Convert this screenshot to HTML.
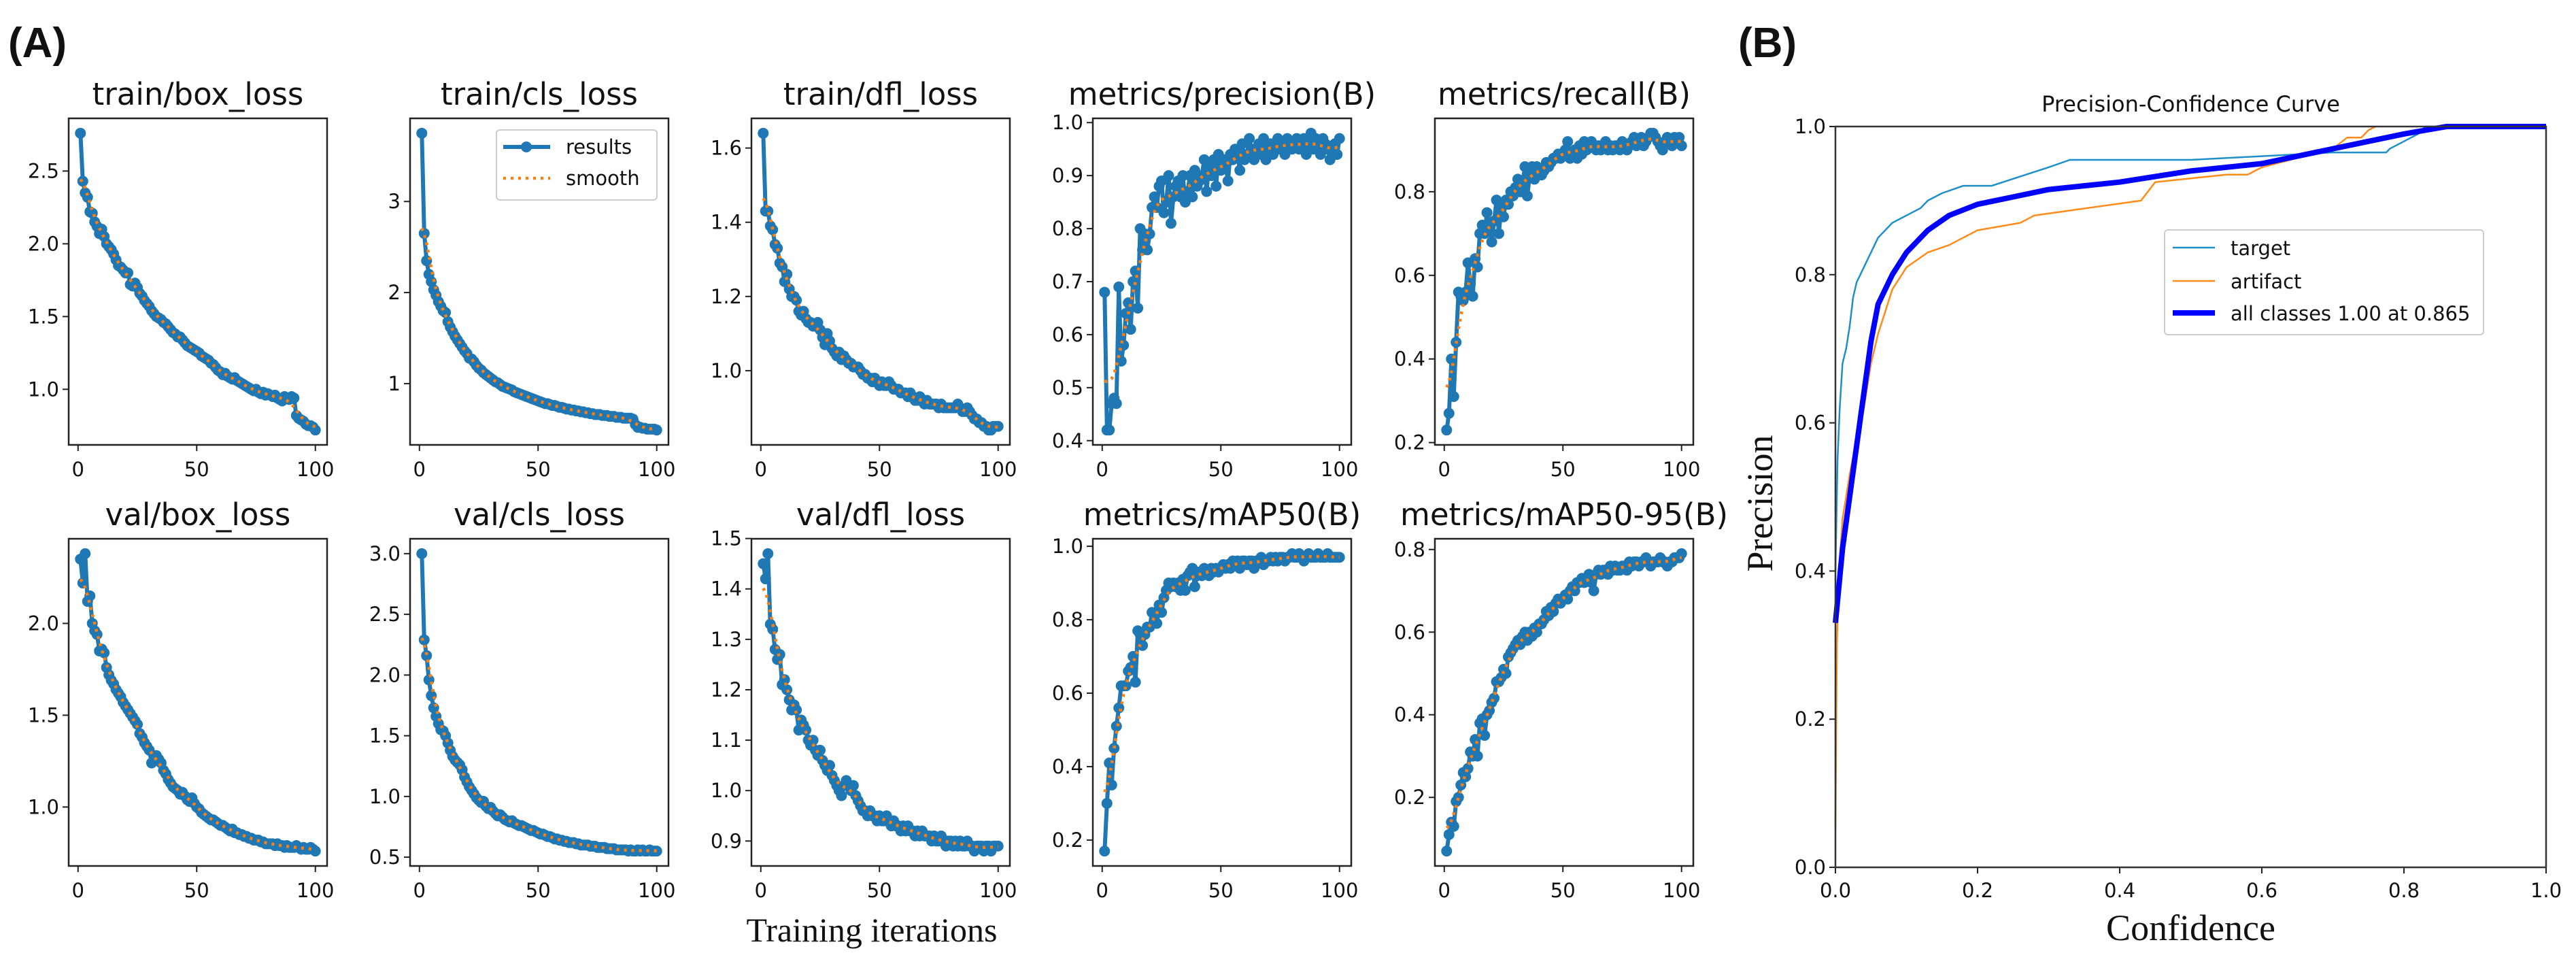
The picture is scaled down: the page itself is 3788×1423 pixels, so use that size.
<!DOCTYPE html>
<html><head><meta charset="utf-8"><style>
html,body{margin:0;padding:0;background:#fff}
svg{display:block}
text{font-family:"DejaVu Sans","Liberation Sans",sans-serif;fill:#111}
</style></head><body>
<svg id="fig" width="3788" height="1423" viewBox="0 0 3788 1423" xmlns="http://www.w3.org/2000/svg">
<text x="12" y="84" style="font-family:'Liberation Sans',sans-serif;font-weight:bold;font-size:62px">(A)</text>
<text x="2556" y="84" style="font-family:'Liberation Sans',sans-serif;font-weight:bold;font-size:62px">(B)</text>
<text x="1282" y="1384" text-anchor="middle" style="font-family:'Liberation Serif',serif;font-size:50px">Training iterations</text>
</svg>
<script>
const trainBox=[2.76,2.43,2.35,2.32,2.22,2.21,2.15,2.12,2.07,2.10,2.05,2.00,1.98,1.96,1.93,1.89,1.85,1.84,1.82,1.80,1.80,1.72,1.71,1.73,1.70,1.66,1.64,1.61,1.59,1.57,1.54,1.52,1.50,1.49,1.48,1.46,1.45,1.43,1.41,1.39,1.38,1.36,1.36,1.34,1.32,1.30,1.29,1.28,1.27,1.26,1.25,1.23,1.22,1.21,1.20,1.18,1.17,1.15,1.13,1.12,1.10,1.11,1.09,1.08,1.07,1.08,1.06,1.05,1.04,1.03,1.02,1.01,1.00,0.99,1.00,0.98,0.97,0.98,0.96,0.97,0.96,0.95,0.96,0.94,0.93,0.92,0.95,0.94,0.93,0.95,0.94,0.82,0.80,0.79,0.78,0.76,0.75,0.75,0.74,0.72];
const trainCls=[3.75,2.65,2.35,2.20,2.12,2.03,1.97,1.90,1.85,1.80,1.78,1.68,1.62,1.57,1.52,1.48,1.44,1.40,1.36,1.33,1.28,1.27,1.24,1.20,1.17,1.15,1.12,1.10,1.08,1.06,1.04,1.02,1.01,0.99,0.97,0.96,0.95,0.94,0.93,0.91,0.90,0.89,0.88,0.87,0.86,0.85,0.84,0.83,0.82,0.81,0.80,0.79,0.78,0.78,0.77,0.76,0.76,0.75,0.74,0.74,0.73,0.72,0.72,0.71,0.71,0.70,0.70,0.69,0.69,0.68,0.68,0.67,0.67,0.66,0.66,0.66,0.65,0.65,0.65,0.64,0.64,0.64,0.63,0.63,0.63,0.62,0.62,0.62,0.62,0.61,0.55,0.52,0.52,0.51,0.51,0.50,0.50,0.50,0.50,0.49];
const trainDfl=[1.64,1.43,1.43,1.39,1.38,1.34,1.33,1.29,1.28,1.24,1.26,1.22,1.20,1.20,1.19,1.16,1.15,1.16,1.14,1.13,1.13,1.12,1.12,1.13,1.11,1.09,1.07,1.10,1.08,1.06,1.05,1.04,1.05,1.03,1.04,1.03,1.02,1.02,1.01,1.01,1.01,1.00,0.99,0.99,0.98,0.98,0.97,0.98,0.97,0.96,0.97,0.96,0.96,0.97,0.96,0.95,0.95,0.95,0.94,0.94,0.94,0.93,0.94,0.93,0.92,0.92,0.93,0.92,0.91,0.92,0.91,0.91,0.91,0.91,0.90,0.91,0.90,0.90,0.90,0.90,0.90,0.90,0.91,0.90,0.89,0.89,0.90,0.89,0.88,0.87,0.87,0.86,0.86,0.85,0.85,0.84,0.84,0.85,0.85,0.85];
const precision=[0.68,0.42,0.42,0.47,0.48,0.47,0.69,0.55,0.58,0.64,0.66,0.61,0.70,0.72,0.65,0.80,0.76,0.79,0.76,0.79,0.84,0.86,0.84,0.88,0.89,0.83,0.85,0.90,0.81,0.86,0.88,0.89,0.86,0.90,0.85,0.87,0.90,0.86,0.91,0.88,0.89,0.90,0.93,0.87,0.92,0.90,0.93,0.88,0.94,0.91,0.93,0.92,0.89,0.94,0.93,0.95,0.94,0.91,0.96,0.93,0.94,0.97,0.95,0.93,0.95,0.96,0.94,0.97,0.93,0.95,0.96,0.94,0.96,0.97,0.95,0.96,0.94,0.97,0.96,0.95,0.96,0.97,0.95,0.96,0.97,0.94,0.96,0.98,0.95,0.97,0.96,0.94,0.97,0.96,0.95,0.93,0.95,0.96,0.94,0.97];
const recall=[0.23,0.27,0.40,0.31,0.44,0.56,0.55,0.54,0.56,0.63,0.58,0.55,0.64,0.62,0.70,0.72,0.70,0.75,0.72,0.68,0.73,0.78,0.70,0.76,0.74,0.78,0.77,0.80,0.79,0.81,0.83,0.80,0.82,0.86,0.79,0.84,0.86,0.83,0.86,0.85,0.84,0.85,0.87,0.86,0.87,0.88,0.88,0.89,0.88,0.89,0.90,0.92,0.88,0.89,0.90,0.88,0.91,0.89,0.92,0.90,0.91,0.92,0.91,0.90,0.91,0.90,0.91,0.92,0.90,0.91,0.90,0.91,0.91,0.90,0.92,0.91,0.90,0.91,0.92,0.93,0.91,0.92,0.93,0.91,0.92,0.93,0.94,0.94,0.93,0.92,0.91,0.90,0.92,0.93,0.92,0.91,0.93,0.92,0.93,0.91];
const valBox=[2.35,2.22,2.38,2.12,2.15,2.00,1.96,1.94,1.85,1.86,1.84,1.76,1.72,1.69,1.67,1.64,1.62,1.60,1.57,1.55,1.53,1.51,1.49,1.47,1.45,1.40,1.38,1.35,1.33,1.31,1.24,1.27,1.28,1.26,1.24,1.20,1.18,1.15,1.13,1.11,1.10,1.09,1.07,1.08,1.06,1.04,1.03,1.05,1.02,1.00,0.99,0.97,0.96,0.95,0.94,0.93,0.93,0.92,0.91,0.90,0.90,0.89,0.88,0.87,0.88,0.86,0.86,0.85,0.85,0.84,0.84,0.83,0.83,0.82,0.82,0.82,0.81,0.81,0.80,0.80,0.80,0.80,0.79,0.80,0.79,0.79,0.78,0.79,0.78,0.78,0.78,0.79,0.78,0.77,0.78,0.77,0.77,0.78,0.77,0.76];
const valCls=[3.00,2.29,2.16,1.96,1.83,1.73,1.66,1.60,1.55,1.54,1.50,1.44,1.38,1.33,1.30,1.28,1.26,1.22,1.16,1.12,1.08,1.05,1.02,0.99,0.97,0.95,0.96,0.92,0.90,0.91,0.88,0.86,0.84,0.85,0.83,0.81,0.80,0.79,0.80,0.78,0.77,0.76,0.76,0.75,0.74,0.73,0.72,0.72,0.71,0.70,0.69,0.69,0.68,0.67,0.67,0.66,0.65,0.65,0.64,0.64,0.63,0.63,0.62,0.62,0.62,0.61,0.61,0.60,0.60,0.60,0.60,0.59,0.59,0.59,0.58,0.58,0.58,0.58,0.57,0.57,0.57,0.57,0.56,0.56,0.56,0.56,0.56,0.55,0.56,0.55,0.55,0.56,0.55,0.56,0.55,0.55,0.56,0.55,0.55,0.55];
const valDfl=[1.45,1.42,1.47,1.33,1.32,1.28,1.26,1.27,1.21,1.22,1.20,1.18,1.16,1.17,1.16,1.12,1.14,1.13,1.12,1.10,1.09,1.10,1.08,1.07,1.08,1.06,1.05,1.04,1.05,1.03,1.02,1.01,1.00,0.99,1.01,1.02,1.01,1.00,1.01,0.99,0.98,0.97,0.96,0.96,0.95,0.96,0.95,0.95,0.94,0.95,0.94,0.94,0.95,0.94,0.93,0.94,0.93,0.93,0.92,0.93,0.92,0.93,0.92,0.92,0.91,0.92,0.91,0.92,0.91,0.91,0.91,0.90,0.91,0.90,0.90,0.91,0.90,0.89,0.90,0.90,0.89,0.90,0.89,0.90,0.89,0.89,0.90,0.89,0.89,0.88,0.89,0.89,0.89,0.88,0.89,0.89,0.88,0.89,0.89,0.89];
const map50=[0.17,0.30,0.41,0.35,0.45,0.51,0.56,0.62,0.62,0.62,0.66,0.67,0.70,0.63,0.77,0.76,0.73,0.76,0.78,0.78,0.82,0.80,0.79,0.84,0.82,0.86,0.88,0.90,0.89,0.90,0.89,0.90,0.88,0.91,0.88,0.92,0.93,0.94,0.89,0.92,0.93,0.92,0.94,0.93,0.92,0.94,0.93,0.94,0.93,0.94,0.95,0.94,0.95,0.94,0.96,0.95,0.96,0.94,0.96,0.96,0.95,0.96,0.96,0.94,0.96,0.96,0.97,0.95,0.96,0.96,0.97,0.96,0.97,0.96,0.97,0.97,0.96,0.97,0.97,0.98,0.97,0.97,0.98,0.97,0.96,0.97,0.98,0.97,0.97,0.97,0.98,0.97,0.97,0.97,0.98,0.97,0.97,0.97,0.97,0.97];
const map5095=[0.07,0.11,0.14,0.13,0.19,0.20,0.23,0.26,0.25,0.27,0.31,0.30,0.34,0.30,0.38,0.39,0.35,0.40,0.41,0.43,0.44,0.48,0.48,0.49,0.51,0.50,0.54,0.55,0.56,0.57,0.58,0.57,0.59,0.60,0.58,0.60,0.59,0.61,0.60,0.62,0.62,0.63,0.65,0.64,0.66,0.65,0.67,0.68,0.67,0.68,0.69,0.68,0.70,0.71,0.70,0.72,0.72,0.73,0.72,0.73,0.74,0.72,0.70,0.74,0.75,0.74,0.75,0.75,0.74,0.76,0.75,0.76,0.75,0.75,0.76,0.76,0.75,0.77,0.76,0.77,0.77,0.76,0.77,0.77,0.78,0.77,0.76,0.77,0.77,0.77,0.78,0.77,0.77,0.76,0.77,0.77,0.78,0.78,0.78,0.79];
const xTicks=[0,50,100];
const yTicksTrainBox=[1.0,1.5,2.0,2.5], yTicksTrainCls=[1,2,3], yTicksTrainDfl=[1.0,1.2,1.4,1.6];
const yTicksPrec=[0.4,0.5,0.6,0.7,0.8,0.9,1.0], yTicksRecall=[0.2,0.4,0.6,0.8];
const yTicksValBox=[1.0,1.5,2.0], yTicksValCls=[0.5,1.0,1.5,2.0,2.5,3.0], yTicksValDfl=[0.9,1.0,1.1,1.2,1.3,1.4,1.5];
const yTicksMap50=[0.2,0.4,0.6,0.8,1.0], yTicksMap5095=[0.2,0.4,0.6,0.8];
// Panel B
const targetConf=[0,0.003,0.006,0.01,0.015,0.02,0.025,0.03,0.035,0.04,0.045,0.05,0.06,0.07,0.08,0.1,0.12,0.13,0.15,0.18,0.22,0.3,0.33,0.5,0.6,0.7,0.775,0.78,0.8,0.81,0.82,0.83,0.85,1.0];
const targetPrec=[0.4,0.55,0.62,0.68,0.7,0.73,0.77,0.79,0.8,0.81,0.82,0.83,0.85,0.86,0.87,0.88,0.89,0.9,0.91,0.92,0.92,0.945,0.955,0.955,0.96,0.965,0.965,0.97,0.98,0.985,0.99,1.0,1.0,1.0];
const artifactConf=[0,0.002,0.005,0.01,0.02,0.03,0.04,0.05,0.06,0.07,0.08,0.1,0.13,0.16,0.2,0.26,0.28,0.43,0.45,0.55,0.58,0.6,0.66,0.7,0.72,0.74,0.75,0.76];
const artifactPrec=[0.05,0.3,0.4,0.47,0.53,0.58,0.62,0.68,0.72,0.75,0.78,0.81,0.83,0.84,0.86,0.87,0.88,0.9,0.925,0.935,0.935,0.945,0.96,0.97,0.985,0.985,0.995,1.0];
const allConf=[0,0.01,0.02,0.03,0.04,0.05,0.06,0.08,0.1,0.13,0.16,0.2,0.25,0.3,0.35,0.4,0.5,0.6,0.7,0.8,0.86,1.0];
const allPrec=[0.33,0.43,0.5,0.57,0.64,0.71,0.76,0.8,0.83,0.86,0.88,0.895,0.905,0.915,0.92,0.925,0.94,0.95,0.97,0.99,1.0,1.0];
const bTicks=[0,0.2,0.4,0.6,0.8,1.0];

const NS='http://www.w3.org/2000/svg';
const svg=document.getElementById('fig');
function mk(tag,attrs,parent){const e=document.createElementNS(NS,tag);for(const k in attrs)e.setAttribute(k,attrs[k]);(parent||svg).appendChild(e);return e;}
function smooth(v){const s=3,r=9,n=v.length,o=[];for(let i=0;i<n;i++){let a=0,w=0;for(let k=-r;k<=r;k++){let j=i+k;if(j<0)j=-j-1;if(j>=n)j=2*n-j-1;const g=Math.exp(-k*k/(2*s*s));a+=g*v[j];w+=g;}o.push(a/w);}return o;}

const colX=[101,603,1105,1607,2110], W=380;
const rows=[[174,654],[792,1273]];
const panels=[
 ['train/box_loss',trainBox,yTicksTrainBox,1,0,0,'train-box-loss'],
 ['train/cls_loss',trainCls,yTicksTrainCls,0,1,0,'train-cls-loss'],
 ['train/dfl_loss',trainDfl,yTicksTrainDfl,1,2,0,'train-dfl-loss'],
 ['metrics/precision(B)',precision,yTicksPrec,1,3,0,'metrics-precision'],
 ['metrics/recall(B)',recall,yTicksRecall,1,4,0,'metrics-recall'],
 ['val/box_loss',valBox,yTicksValBox,1,0,1,'val-box-loss'],
 ['val/cls_loss',valCls,yTicksValCls,1,1,1,'val-cls-loss'],
 ['val/dfl_loss',valDfl,yTicksValDfl,1,2,1,'val-dfl-loss'],
 ['metrics/mAP50(B)',map50,yTicksMap50,1,3,1,'metrics-map50'],
 ['metrics/mAP50-95(B)',map5095,yTicksMap5095,1,4,1,'metrics-map50-95']
];
panels.forEach(p=>{
 const [title,vals,yt,dec,c,r,nm]=p;
 const L=colX[c],R=L+W,T=rows[r][0],B=rows[r][1];
 const g=mk('g',{});
 
 
 const n=vals.length;const xmin=1,xmax=n,xm=(xmax-xmin)*0.05;
 const sx=x=>L+(x-(xmin-xm))/((xmax+xm)-(xmin-xm))*(R-L);
 let mn=Math.min(...vals),mx=Math.max(...vals),ym=(mx-mn)*0.05;
 const sy=y=>B-(y-(mn-ym))/((mx+ym)-(mn-ym))*(B-T);
 const t=mk('text',{x:(L+R)/2,y:T-20,'text-anchor':'middle','font-size':45},g);t.textContent=title;
 
 
 xTicks.forEach(v=>{const x=sx(v);mk('line',{x1:x,x2:x,y1:B,y2:B+9,stroke:'#222','stroke-width':2},g);
  const l=mk('text',{x:x,y:B+46,'text-anchor':'middle','font-size':29},g);l.textContent=v;
  
  });
 yt.forEach(v=>{const y=sy(v);mk('line',{x1:L-9,x2:L,y1:y,y2:y,stroke:'#222','stroke-width':2},g);
  const l=mk('text',{x:L-14,y:y+10,'text-anchor':'end','font-size':29},g);l.textContent=dec?v.toFixed(1):String(v);
  
  });
 const pts=vals.map((v,i)=>sx(i+1).toFixed(1)+','+sy(v).toFixed(1)).join(' ');
 const line=mk('polyline',{points:pts,fill:'none',stroke:'#1f77b4','stroke-width':6,'stroke-linejoin':'round'},g);
 
 
 vals.forEach((v,i)=>{const m=mk('circle',{cx:sx(i+1),cy:sy(v),r:8,fill:'#1f77b4'},g);
  
  });
 const sm=smooth(vals);
 const sl=mk('polyline',{points:sm.map((v,i)=>sx(i+1).toFixed(1)+','+sy(v).toFixed(1)).join(' '),fill:'none',stroke:'#ff7f0e','stroke-width':4.5,'stroke-dasharray':'4 7'},g);
 
 
 const fr=mk('rect',{x:L,y:T,width:W,height:B-T,fill:'none',stroke:'#222','stroke-width':2.5},g);
 
 
 if(nm==='train-cls-loss'){
  const lg=mk('g',{},g);
  
  
  mk('rect',{x:730,y:191,width:236,height:103,rx:5,fill:'#fff','fill-opacity':0.85,stroke:'#ccc','stroke-width':2},lg);
  mk('line',{x1:740,x2:809,y1:216,y2:216,stroke:'#1f77b4','stroke-width':6},lg);
  mk('circle',{cx:774,cy:216,r:8,fill:'#1f77b4'},lg);
  mk('line',{x1:740,x2:809,y1:262,y2:262,stroke:'#ff7f0e','stroke-width':4.5,'stroke-dasharray':'4 7'},lg);
  const a=mk('text',{x:832,y:226,'font-size':29},lg);a.textContent='results';
  
  
  const b=mk('text',{x:832,y:272,'font-size':29},lg);b.textContent='smooth';
  
  
 }
});

// Panel B
(function(){
 const L=2699,R=3744,T=186,B=1275;
 const g=mk('g',{});
 
 
 const sx=x=>L+x*(R-L), sy=y=>B-y*(B-T);
 const t=mk('text',{x:(L+R)/2,y:164,'text-anchor':'middle','font-size':32},g);t.textContent='Precision-Confidence Curve';
 
 
 bTicks.forEach(v=>{
  mk('line',{x1:sx(v),x2:sx(v),y1:B,y2:B+9,stroke:'#222','stroke-width':2},g);
  const a=mk('text',{x:sx(v),y:B+44,'text-anchor':'middle','font-size':29},g);a.textContent=v.toFixed(1);
  
  
  mk('line',{x1:L-9,x2:L,y1:sy(v),y2:sy(v),stroke:'#222','stroke-width':2},g);
  const b=mk('text',{x:L-14,y:sy(v)+10,'text-anchor':'end','font-size':29},g);b.textContent=v.toFixed(1);
  
  
 });
 function curve(xs,ys,col,w,name){const p=mk('polyline',{points:xs.map((x,i)=>sx(x).toFixed(1)+','+sy(ys[i]).toFixed(1)).join(' '),fill:'none',stroke:col,'stroke-width':w,'stroke-linejoin':'round'},g);
  
  }
 curve(targetConf,targetPrec,'#1f8fc8',2.5,'target-curve');
 curve(artifactConf,artifactPrec,'#ff8c1a',2.5,'artifact-curve');
 curve(allConf,allPrec,'#0000ff',8,'all-classes-curve');
 const fr=mk('rect',{x:L,y:T,width:R-L,height:B-T,fill:'none',stroke:'#333','stroke-width':2.5},g);
 
 
 const xl=mk('text',{x:(L+R)/2,y:1382,'text-anchor':'middle',style:"font-family:'Liberation Serif',serif;font-size:54px"},g);xl.textContent='Confidence';
 
 
 const yl=mk('text',{x:0,y:0,'text-anchor':'middle',transform:'translate(2606,740) rotate(-90)',style:"font-family:'Liberation Serif',serif;font-size:54px"},g);yl.textContent='Precision';
 
 
 const lg=mk('g',{},g);
 
 
 mk('rect',{x:3183,y:338,width:469,height:154,rx:5,fill:'#fff',stroke:'#ccc','stroke-width':2},lg);
 const ent=[['target','#1f8fc8',2.5,364],['artifact','#ff8c1a',2.5,413],['all classes 1.00 at 0.865','#0000ff',8,460]];
 ent.forEach(e=>{mk('line',{x1:3195,x2:3257,y1:e[3],y2:e[3],stroke:e[1],'stroke-width':e[2]},lg);
  const tx=mk('text',{x:3280,y:e[3]+11,'font-size':29},lg);tx.textContent=e[0];
  
  });
})();
</script>
</body></html>
